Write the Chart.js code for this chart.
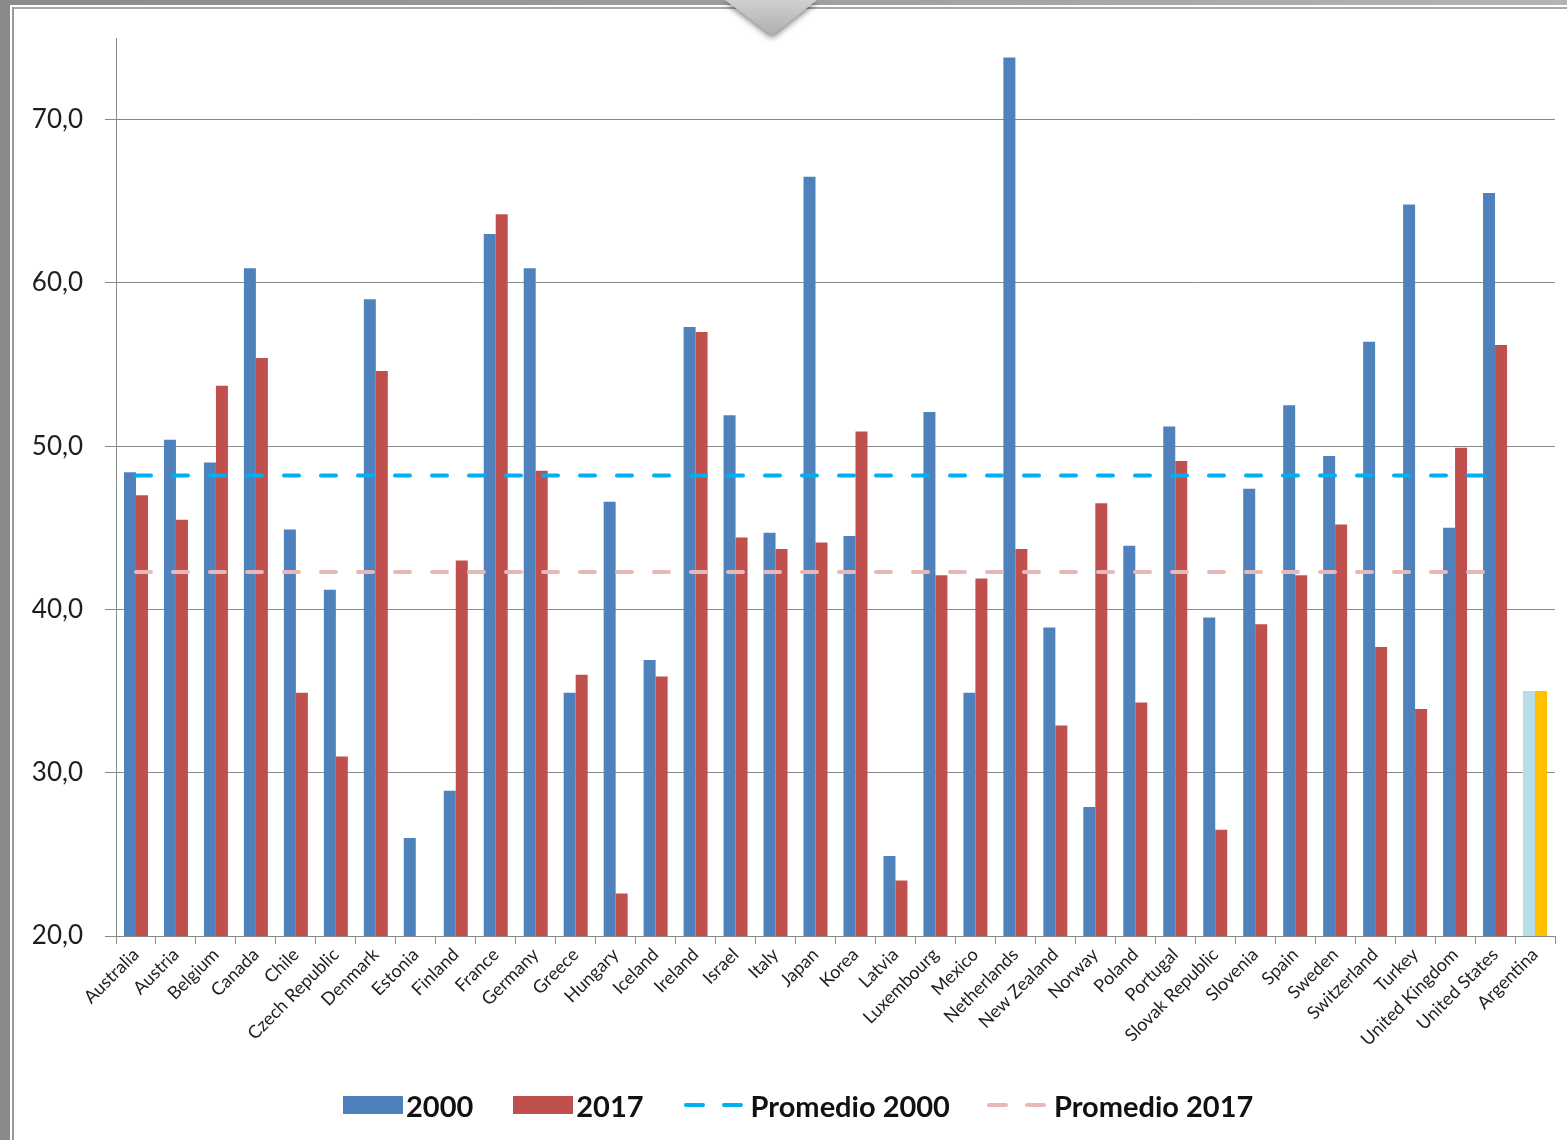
<!DOCTYPE html>
<html>
<head>
<meta charset="utf-8">
<script src="https://cdn.jsdelivr.net/npm/chart.js@4.4.1/dist/chart.umd.min.js"></script>
<style>
  body { margin: 0; background: #fff; width: 1567px; height: 1140px; overflow: hidden; position: relative; font-family: Lato, "Open Sans", sans-serif; }
  #frameLeft { position: absolute; left: 0; top: 0; width: 10px; height: 1140px; background: #8a8a8a; }
  #frameTop { position: absolute; left: 0; top: 0; width: 1567px; height: 5px; background: linear-gradient(to right, #8a8a8a, #b4b4b4); }
  #lineLeft { position: absolute; left: 12px; top: 7px; width: 2px; height: 1133px; background: #9a9a9a; }
  #lineTop { position: absolute; left: 12px; top: 7px; width: 1555px; height: 2px; background: #a8a8a8; }
  #arrow { position: absolute; left: 722px; top: 0; width: 100px; height: 44px; filter: drop-shadow(0 2px 3px rgba(0,0,0,0.55)); z-index: 3; }
  #arrow div { width: 100%; height: 100%; clip-path: polygon(3px 0, 95px 0, 50px 36px); background: linear-gradient(#d0d0d0, #a6a6a6); }
  #chart { position: absolute; left: 0; top: 0; z-index: 2; }
  #legend { position: absolute; left: 343px; top: 1086px; height: 38px; display: flex; align-items: center; z-index: 4; }
  #legend .box { display: inline-block; flex: none; width: 60px; height: 18px; margin-right: 3px; }
  #legend .lbl { font: bold 29px Lato, sans-serif; color: #111; margin-right: 40px; white-space: nowrap; }
  #legend .dash { display: flex; flex: none; width: 60px; margin-right: 7px; }
  #legend .dash i { display: block; flex: none; width: 21px; height: 4px; border-radius: 2px; margin-right: 17px; }
</style>
</head>
<body>
<div id="frameTop"></div>
<div id="frameLeft"></div>
<div id="lineTop"></div>
<div id="lineLeft"></div>
<div id="arrow"><div></div></div>
<canvas id="chart" width="1567" height="1140"></canvas>
<div id="legend">
  <span class="box" style="background:#4f81bd"></span><span class="lbl">2000</span>
  <span class="box" style="background:#c0504d"></span><span class="lbl">2017</span>
  <span class="dash"><i style="background:#00b0f0"></i><i style="background:#00b0f0"></i></span><span class="lbl" style="margin-right:37px">Promedio 2000</span>
  <span class="dash"><i style="background:#e6b9b8"></i><i style="background:#e6b9b8"></i></span><span class="lbl">Promedio 2017</span>
</div>
<script>
// data
const countries = [
  "Australia", "Austria", "Belgium", "Canada", "Chile", "Czech Republic", "Denmark", "Estonia",
  "Finland", "France", "Germany", "Greece", "Hungary", "Iceland", "Ireland", "Israel", "Italy",
  "Japan", "Korea", "Latvia", "Luxembourg", "Mexico", "Netherlands", "New Zealand", "Norway",
  "Poland", "Portugal", "Slovak Republic", "Slovenia", "Spain", "Sweden", "Switzerland", "Turkey",
  "United Kingdom", "United States", "Argentina"
];
const values2000 = [
  48.4, 50.4, 49.0, 60.9, 44.9, 41.2, 59.0, 26.0,
  28.9, 63.0, 60.9, 34.9, 46.6, 36.9, 57.3, 51.9, 44.7,
  66.5, 44.5, 24.9, 52.1, 34.9, 73.8, 38.9, 27.9,
  43.9, 51.2, 39.5, 47.4, 52.5, 49.4, 56.4, 64.8,
  45.0, 65.5, 35.0
];
const values2017 = [
  47.0, 45.5, 53.7, 55.4, 34.9, 31.0, 54.6, null,
  43.0, 64.2, 48.5, 36.0, 22.6, 35.9, 57.0, 44.4, 43.7,
  44.1, 50.9, 23.4, 42.1, 41.9, 43.7, 32.9, 46.5,
  34.3, 49.1, 26.5, 39.1, 42.1, 45.2, 37.7, 33.9,
  49.9, 56.2, 35.0
];
const avg2000 = 48.2;
const avg2017 = 42.3;
const avgFrom = "Australia";
const avgTo = "United States";
const yTickValues = [20, 30, 40, 50, 60, 70];

const highlight = "Argentina";
const color2000 = countries.map(c => c === highlight ? "#b7dde8" : "#4f81bd");
const color2017 = countries.map(c => c === highlight ? "#ffc000" : "#c0504d");

const axisGray = "#8a8a8a";
const textColor = "#1e1e1e";

const ctx = document.getElementById("chart").getContext("2d");
new Chart(ctx, {
  type: "bar",
  data: {
    labels: countries,
    datasets: [
      {
        type: "line",
        label: "Promedio 2000",
        data: [{ x: avgFrom, y: avg2000 }, { x: avgTo, y: avg2000 }],
        borderColor: "#00b0f0",
        borderWidth: 4,
        borderDash: [15, 22],
        borderCapStyle: "round",
        pointRadius: 0,
        order: 0,
      },
      {
        type: "line",
        label: "Promedio 2017",
        data: [{ x: avgFrom, y: avg2017 }, { x: avgTo, y: avg2017 }],
        borderColor: "#e6b9b8",
        borderWidth: 4,
        borderDash: [15, 22],
        borderCapStyle: "round",
        pointRadius: 0,
        order: 0,
      },
      {
        label: "2000",
        data: values2000,
        backgroundColor: color2000,
        categoryPercentage: 0.6,
        barPercentage: 1.0,
        order: 1,
      },
      {
        label: "2017",
        data: values2017,
        backgroundColor: color2017,
        categoryPercentage: 0.6,
        barPercentage: 1.0,
        order: 1,
      },
    ],
  },
  options: {
    responsive: false,
    animation: false,
    layout: { padding: { left: 0, top: 38, right: 12, bottom: 74 } },
    plugins: {
      legend: { display: false },
      tooltip: { enabled: false },
    },
    scales: {
      x: {
        grid: { drawOnChartArea: false, drawTicks: true, tickLength: 8, color: axisGray, offset: true },
        border: { color: axisGray, width: 1 },
        ticks: {
          autoSkip: false,
          minRotation: 45,
          maxRotation: 45,
          padding: 0,
          color: textColor,
          font: { family: "Lato", size: 18 },
        },
        afterFit: (scale) => { scale.height = 130; },
      },
      y: {
        min: 20,
        max: 75,
        grid: { color: axisGray, tickLength: 11, drawTicks: true },
        border: { color: axisGray, width: 1 },
        ticks: {
          includeBounds: false,
          padding: 22,
          color: textColor,
          font: { family: "Lato", size: 26 },
          callback: (v) => v.toFixed(1).replace(".", ","),
        },
        afterBuildTicks: (scale) => { scale.ticks = yTickValues.map(v => ({ value: v })); },
        afterFit: (scale) => { scale.width = 116; },
      },
    },
  },
});
</script>
</body>
</html>
